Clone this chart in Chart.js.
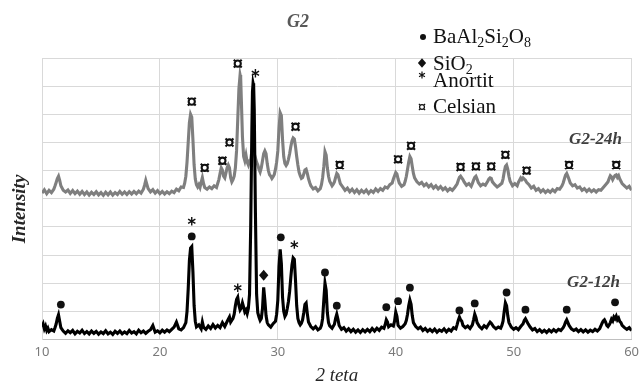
<!DOCTYPE html>
<html>
<head>
<meta charset="utf-8">
<title>G2 XRD</title>
<script src="https://cdn.jsdelivr.net/npm/chart.js@4.4.1/dist/chart.umd.min.js"></script>
<style>
  html, body { margin: 0; padding: 0; background: #fff; }
  #wrap { width: 644px; height: 386px; position: relative; }
</style>
</head>
<body>
<div id="wrap"><canvas id="xrd-chart"></canvas></div>
<script>
// 2 theta / intensity pairs (arbitrary units, 0-100)
const g2_12h = [
  [10.0,4.5],[10.1,5.5],[10.2,3.8],[10.3,4.8],[10.4,3.2],[10.5,4.0],[10.6,2.8],[10.8,3.5],[11.0,3.0],[11.1,4.2],
  [11.2,5.5],[11.3,7.5],[11.4,8.8],[11.5,6.5],[11.6,4.2],[11.8,3.0],[12.0,2.2],[12.2,3.1],[12.4,2.4],[12.6,3.2],
  [12.8,2.0],[13.0,2.9],[13.2,2.3],[13.4,3.3],[13.6,2.1],[13.8,2.8],[14.0,2.0],[14.2,3.0],[14.4,2.2],[14.6,2.9],
  [14.8,1.9],[15.0,2.7],[15.2,2.1],[15.4,3.1],[15.6,2.0],[15.8,2.6],[16.0,1.8],[16.2,2.9],[16.4,2.2],[16.6,3.0],
  [16.8,2.0],[17.0,2.7],[17.2,2.1],[17.4,3.2],[17.6,2.3],[17.8,2.8],[18.0,2.0],[18.2,3.3],[18.4,2.4],[18.6,3.0],
  [18.8,2.2],[19.0,2.9],[19.2,3.5],[19.4,5.0],[19.6,2.6],[19.8,3.1],[20.0,2.4],[20.2,3.3],[20.4,2.6],[20.6,3.4],
  [20.8,2.8],[21.0,3.6],[21.2,4.4],[21.4,6.2],[21.6,3.8],[21.8,3.4],[22.0,4.2],[22.2,6.0],[22.3,10],[22.4,18],
  [22.5,28],[22.6,32.5],[22.7,33],[22.8,24],[22.9,12],[23.0,6.5],[23.1,4.5],[23.3,5.2],[23.5,3.8],[23.6,6.2],
  [23.7,4.4],[23.9,3.6],[24.1,4.8],[24.3,3.9],[24.5,5.3],[24.7,4.1],[24.9,5.0],[25.1,4.2],[25.3,6.0],[25.5,4.6],
  [25.7,6.4],[25.9,8.0],[26.0,6.2],[26.2,7.5],[26.3,9.0],[26.4,12],[26.5,14.2],[26.6,15],[26.7,12.2],[26.8,10.5],
  [26.9,11.2],[27.0,13],[27.1,11.5],[27.2,9.8],[27.3,10.5],[27.4,9.2],[27.5,11],[27.6,16],[27.7,40],[27.8,75],
  [27.85,88],[27.9,91],[27.95,90],[28.0,82],[28.1,45],[28.2,16],[28.3,9.5],[28.4,8.0],[28.5,6.8],[28.6,7.5],
  [28.7,11],[28.8,18.5],[28.9,14],[29.0,8.5],[29.1,6.0],[29.2,5.2],[29.4,4.4],[29.6,5.6],[29.8,6.5],[29.9,9],
  [30.0,14],[30.1,26],[30.2,32],[30.3,27],[30.4,15],[30.5,10],[30.6,8.2],[30.7,9.0],[30.8,11],[30.9,13.5],
  [31.0,17],[31.1,22],[31.2,26.5],[31.3,29],[31.4,28.5],[31.5,21],[31.6,12],[31.7,7.5],[31.8,6.0],[31.9,5.2],
  [32.0,5.8],[32.1,7.0],[32.2,9.5],[32.3,12.5],[32.4,13],[32.5,9.2],[32.6,6.2],[32.8,4.6],[33.0,3.8],[33.2,4.6],
  [33.4,3.4],[33.6,4.0],[33.7,5.0],[33.8,7.5],[33.9,14],[34.0,20],[34.1,17.5],[34.2,9.5],[34.3,6.0],[34.4,4.8],
  [34.6,4.0],[34.8,5.4],[34.9,7.5],[35.0,9],[35.1,7.2],[35.2,5.0],[35.4,3.6],[35.6,4.2],[35.8,3.0],[36.0,3.8],
  [36.2,2.8],[36.4,3.6],[36.6,2.6],[36.8,3.4],[37.0,2.5],[37.2,3.5],[37.4,2.7],[37.6,3.6],[37.8,2.8],[38.0,3.9],
  [38.2,3.0],[38.4,4.0],[38.6,3.2],[38.8,4.4],[39.0,4.0],[39.1,5.2],[39.2,7.0],[39.3,6.2],[39.4,4.5],[39.6,5.2],
  [39.8,4.8],[39.9,6.5],[40.0,9.7],[40.1,8.2],[40.2,5.0],[40.4,4.0],[40.6,4.6],[40.8,5.6],[40.9,6.8],[41.0,9],
  [41.1,12],[41.2,14],[41.3,12.5],[41.4,8.5],[41.5,6.0],[41.7,4.6],[41.9,3.8],[42.1,4.4],[42.3,3.2],[42.5,3.9],
  [42.7,2.9],[42.9,3.6],[43.1,2.8],[43.3,3.7],[43.5,2.6],[43.7,3.4],[43.9,2.9],[44.1,3.8],[44.3,2.7],[44.5,3.6],
  [44.7,3.0],[44.9,4.2],[45.1,3.8],[45.2,5.2],[45.3,6.8],[45.4,8],[45.5,7.0],[45.6,6.5],[45.7,5.0],[45.9,4.2],
  [46.1,4.8],[46.3,3.9],[46.5,5.2],[46.6,7.0],[46.7,9],[46.8,7.8],[46.9,6.0],[47.1,4.6],[47.3,3.8],[47.5,4.9],
  [47.7,4.2],[47.9,5.6],[48.0,6.2],[48.1,5.8],[48.3,4.5],[48.5,3.8],[48.7,4.4],[48.9,4.0],[49.0,5.0],[49.1,6.5],
  [49.2,10],[49.3,13],[49.4,12],[49.5,8.5],[49.6,6.0],[49.8,4.4],[50.0,3.6],[50.2,4.2],[50.4,3.5],[50.6,4.6],
  [50.8,5.6],[50.9,6.8],[51.0,7.4],[51.1,6.6],[51.2,5.8],[51.4,4.4],[51.6,3.4],[51.8,3.9],[52.0,2.8],[52.2,3.5],
  [52.4,2.6],[52.6,3.3],[52.8,2.5],[53.0,3.4],[53.2,2.7],[53.4,3.5],[53.6,2.8],[53.8,3.6],[54.0,3.2],[54.2,4.2],
  [54.3,5.0],[54.4,6.2],[54.5,7],[54.6,6.0],[54.7,5.0],[54.9,3.8],[55.1,3.2],[55.3,3.7],[55.5,2.8],[55.7,3.5],
  [55.9,2.7],[56.1,3.4],[56.3,2.6],[56.5,3.3],[56.7,2.8],[56.9,3.6],[57.1,3.0],[57.3,3.9],[57.4,4.8],[57.5,5.8],
  [57.6,6.6],[57.7,7],[57.8,6.2],[57.9,5.0],[58.0,4.6],[58.1,5.2],[58.2,6.0],[58.3,7.2],[58.4,6.6],[58.5,8.0],
  [58.6,7.4],[58.7,8.3],[58.8,7.0],[58.9,7.6],[59.0,6.4],[59.1,6.0],[59.2,5.0],[59.4,4.2],[59.6,3.6],[59.8,4.2],
  [60.0,3.2]
];

const g2_24h = [
  [10.0,52.0],[10.2,53.2],[10.4,51.8],[10.6,53.0],[10.8,52.2],[11.0,53.4],[11.1,54.5],[11.2,55.8],[11.3,57.2],[11.4,58],
  [11.5,56.5],[11.6,54.6],[11.8,53.0],[12.0,52.4],[12.2,53.1],[12.4,51.9],[12.6,52.9],[12.8,51.8],[13.0,52.7],[13.2,51.6],
  [13.4,52.6],[13.6,51.5],[13.8,52.4],[14.0,51.3],[14.2,52.3],[14.4,51.5],[14.6,52.5],[14.8,51.4],[15.0,52.2],[15.2,51.2],
  [15.4,52.3],[15.6,51.4],[15.8,52.4],[16.0,51.3],[16.2,52.2],[16.4,51.5],[16.6,52.6],[16.8,51.6],[17.0,52.4],[17.2,51.5],
  [17.4,52.5],[17.6,51.7],[17.8,52.6],[18.0,51.8],[18.2,52.7],[18.4,52.0],[18.6,53.4],[18.7,54.8],[18.8,56.5],[18.9,55.0],
  [19.0,53.6],[19.2,52.4],[19.4,53.2],[19.6,52.0],[19.8,52.9],[20.0,51.8],[20.2,52.6],[20.4,51.7],[20.6,52.5],[20.8,51.8],
  [21.0,52.7],[21.2,52.2],[21.4,53.4],[21.6,52.8],[21.8,54.2],[22.0,54.0],[22.1,55.5],[22.2,58],[22.3,63],[22.4,70],
  [22.5,77],[22.6,80],[22.7,79],[22.8,71],[22.9,62],[23.0,57],[23.1,55],[23.2,54.2],[23.3,55.0],[23.4,54.0],
  [23.5,55.8],[23.6,57.5],[23.7,55.4],[23.8,54.0],[24.0,53.4],[24.2,54.2],[24.4,53.6],[24.6,54.6],[24.8,54.0],[24.9,55.4],
  [25.0,56.8],[25.1,59.0],[25.2,61],[25.3,60.2],[25.4,58.0],[25.5,57.4],[25.6,59.2],[25.7,61.0],[25.8,62],[25.9,61],
  [26.0,57.5],[26.1,56.0],[26.2,56.8],[26.3,58.0],[26.4,61],[26.5,67],[26.6,78],[26.7,89],[26.8,94],[26.85,93],
  [26.9,86],[27.0,72],[27.1,65],[27.2,63.5],[27.3,65.5],[27.4,63.0],[27.5,62.0],[27.6,63.5],[27.7,64.0],[27.8,67],
  [27.9,69],[28.0,66],[28.1,64.5],[28.2,63.0],[28.3,62.0],[28.4,60.5],[28.5,59.5],[28.6,61.0],[28.7,63.5],[28.8,66],
  [28.9,67],[29.0,66],[29.1,62.5],[29.2,60.0],[29.3,58.5],[29.4,58.0],[29.5,57.2],[29.6,57.8],[29.7,58.6],[29.8,60.5],
  [29.9,63],[30.0,67],[30.1,75],[30.2,80.5],[30.3,79.5],[30.4,71],[30.5,65],[30.6,62.5],[30.7,61.8],[30.8,62.5],
  [30.9,64],[31.0,66],[31.1,68.5],[31.2,70.5],[31.3,71.6],[31.4,71.2],[31.5,68.5],[31.6,65],[31.7,62],[31.8,59.5],
  [31.9,58.2],[32.0,57.2],[32.1,57.5],[32.2,58.8],[32.3,60.2],[32.4,60.5],[32.5,59.0],[32.6,57.2],[32.7,55.8],[32.8,54.6],
  [33.0,53.5],[33.2,54.0],[33.4,52.8],[33.6,53.6],[33.7,55.0],[33.8,57.5],[33.9,61.5],[34.0,66.7],[34.1,65.5],[34.2,61.0],
  [34.3,58.0],[34.4,56.2],[34.5,55.4],[34.6,54.6],[34.7,55.2],[34.8,56.0],[34.9,57.6],[35.0,59],[35.1,58.5],[35.2,57.0],
  [35.3,55.4],[35.5,54.2],[35.7,53.0],[35.9,53.8],[36.1,52.5],[36.3,53.4],[36.5,52.2],[36.7,53.2],[36.9,52.0],[37.1,53.0],
  [37.3,52.2],[37.5,53.1],[37.7,51.9],[37.9,52.9],[38.1,52.2],[38.3,53.5],[38.5,52.6],[38.7,53.6],[38.9,53.0],[39.1,54.2],
  [39.3,53.8],[39.5,55.0],[39.7,55.6],[39.8,57.0],[39.9,58.2],[40.0,59.3],[40.1,58.8],[40.2,57.0],[40.3,55.6],[40.5,54.4],
  [40.7,55.0],[40.8,56.2],[40.9,58.0],[41.0,60.5],[41.1,63.0],[41.2,65],[41.3,64.2],[41.4,61.5],[41.5,59.0],[41.6,57.4],
  [41.8,56.0],[42.0,55.2],[42.2,55.8],[42.4,54.6],[42.6,55.3],[42.8,54.2],[43.0,55.0],[43.2,53.8],[43.4,54.6],[43.6,53.5],
  [43.8,54.3],[44.0,53.2],[44.2,53.9],[44.4,52.8],[44.6,53.6],[44.8,53.0],[45.0,54.0],[45.2,55.2],[45.3,56.5],[45.4,57.6],
  [45.5,58],[45.6,57.4],[45.7,56.8],[45.8,56.0],[46.0,54.8],[46.2,55.4],[46.4,54.4],[46.5,55.4],[46.6,56.6],[46.7,57.6],
  [46.8,58],[46.9,57.0],[47.0,55.8],[47.2,54.6],[47.4,55.2],[47.6,54.8],[47.8,56.2],[47.9,57.0],[48.0,57.4],[48.1,57.2],
  [48.2,56.0],[48.4,55.0],[48.6,54.2],[48.8,54.8],[49.0,55.5],[49.1,57.0],[49.2,59.5],[49.3,61.5],[49.4,62],[49.5,60.5],
  [49.6,58.0],[49.7,56.2],[49.9,54.6],[50.1,55.4],[50.3,54.6],[50.4,55.8],[50.5,56.6],[50.6,57.4],[50.7,56.8],[50.8,57.4],
  [50.9,57.0],[51.0,56.6],[51.1,55.8],[51.3,55.0],[51.5,53.8],[51.7,54.4],[51.9,53.0],[52.1,53.6],[52.3,52.4],[52.5,53.2],
  [52.7,52.2],[52.9,53.0],[53.1,52.3],[53.3,53.2],[53.5,52.5],[53.7,53.6],[53.9,53.4],[54.1,54.6],[54.2,55.6],[54.3,57.0],
  [54.4,58.4],[54.5,59],[54.6,58.0],[54.7,56.8],[54.8,55.6],[55.0,54.6],[55.2,55.0],[55.4,53.8],[55.6,54.2],[55.8,53.0],
  [56.0,53.6],[56.2,52.6],[56.4,53.4],[56.6,52.5],[56.8,53.2],[57.0,52.4],[57.2,53.2],[57.4,53.0],[57.6,54.0],[57.8,55.0],
  [58.0,56.0],[58.1,57.2],[58.2,58.2],[58.3,57.8],[58.4,56.8],[58.5,57.6],[58.6,58.3],[58.7,58.5],[58.8,57.6],[58.9,58.2],
  [59.0,57.0],[59.1,56.2],[59.2,55.4],[59.4,54.6],[59.6,53.8],[59.8,54.4],[60.0,53.0]
];

// phase marks above the peaks: [2 theta, intensity]
const baAlSiMarks = [[11.6,12.4],[22.7,36.6],[30.25,36.3],[34.0,23.8],[35.0,12],[39.2,11.5],[40.2,13.6],[41.2,18.4],
  [45.4,10.3],[46.7,12.8],[49.4,16.7],[51.0,10.6],[54.5,10.6],[58.6,13.2]];
const sio2Marks = [[28.8,22.8]];
const anortitMarks = [[22.7,42],[26.6,18.4],[28.1,94.6],[31.4,33.7]];
const celsianMarks = [[22.7,84.5],[23.8,61],[25.3,63.5],[25.9,70],[26.6,98],[31.5,75.6],[35.25,62],[40.2,64],
  [41.3,68.8],[45.5,61.3],[46.8,61.5],[48.1,61.5],[49.3,65.6],[51.1,60],[54.7,62],[58.7,62]];

const xTicks = [10, 20, 30, 40, 50, 60];
const legendLabels = ["BaAl2Si2O8", "SiO2", "Anortit", "Celsian"];
const seriesNames = ["G2-12h", "G2-24h"];

const serif = "'Liberation Serif', 'DejaVu Serif', serif";

function drawSymbol(ctx, kind, x, y, s, lw) {
  ctx.save();
  ctx.fillStyle = "#111";
  ctx.strokeStyle = "#111";
  ctx.lineWidth = lw;
  ctx.beginPath();
  if (kind === "dot") {
    ctx.arc(x, y, s, 0, Math.PI * 2);
    ctx.fill();
  } else if (kind === "diamond") {
    ctx.moveTo(x, y - s);
    ctx.lineTo(x + s * 0.85, y);
    ctx.lineTo(x, y + s);
    ctx.lineTo(x - s * 0.85, y);
    ctx.closePath();
    ctx.fill();
  } else if (kind === "star") {
    for (let i = 0; i < 3; i++) {
      const a = Math.PI / 2 + (i * Math.PI) / 3;
      ctx.moveTo(x + Math.cos(a) * s, y + Math.sin(a) * s);
      ctx.lineTo(x - Math.cos(a) * s, y - Math.sin(a) * s);
    }
    ctx.stroke();
  } else if (kind === "cels") {
    const r = s * 0.55;
    ctx.arc(x, y, r, 0, Math.PI * 2);
    for (let i = 0; i < 4; i++) {
      const a = Math.PI / 4 + (i * Math.PI) / 2;
      ctx.moveTo(x + Math.cos(a) * r, y + Math.sin(a) * r);
      ctx.lineTo(x + Math.cos(a) * s, y + Math.sin(a) * s);
    }
    ctx.stroke();
  }
  ctx.restore();
}

// digits become subscripts
function drawFormula(ctx, text, x, y) {
  let cx = x;
  for (const ch of text) {
    const sub = ch >= "0" && ch <= "9";
    ctx.font = (sub ? "14px " : "21px ") + serif;
    ctx.fillText(ch, cx, sub ? y + 4 : y);
    cx += ctx.measureText(ch).width;
  }
}

const annotations = {
  id: "annotations",
  afterDatasetsDraw(chart) {
    const { ctx } = chart;
    const xs = chart.scales.x;
    const ys = chart.scales.y;
    const put = (marks, kind, s, lw) => {
      marks.forEach(([tx, ty]) => {
        drawSymbol(ctx, kind, xs.getPixelForValue(tx), ys.getPixelForValue(ty), s, lw);
      });
    };
    put(baAlSiMarks, "dot", 3.9, 1);
    put(sio2Marks, "diamond", 5.5, 1);
    put(anortitMarks, "star", 4.2, 1.4);
    put(celsianMarks, "cels", 5.6, 2.1);
  },
  afterDraw(chart) {
    const { ctx } = chart;
    ctx.save();
    ctx.textBaseline = "middle";

    // title
    ctx.fillStyle = "#595959";
    ctx.textAlign = "center";
    ctx.font = "italic bold 18px " + serif;
    ctx.fillText("G2", 298, 22);

    // series names
    ctx.fillStyle = "#404040";
    ctx.textAlign = "right";
    ctx.font = "italic bold 17px " + serif;
    ctx.fillText(seriesNames[1], 622, 140);
    ctx.fillText(seriesNames[0], 620, 283);

    // y title
    ctx.save();
    ctx.translate(20, 209);
    ctx.rotate(-Math.PI / 2);
    ctx.textAlign = "center";
    ctx.fillStyle = "#262626";
    ctx.font = "italic bold 19px " + serif;
    ctx.fillText("Intensity", 0, 0);
    ctx.restore();

    // legend
    ctx.textBaseline = "alphabetic";
    ctx.textAlign = "left";
    ctx.fillStyle = "#111";
    const baselines = [43, 70, 87, 113];
    legendLabels.forEach((label, i) => drawFormula(ctx, label, 433, baselines[i]));
    drawSymbol(ctx, "dot", 423, 37, 3, 1);
    drawSymbol(ctx, "diamond", 422, 63, 4.8, 1);
    drawSymbol(ctx, "star", 422, 75, 3.4, 1.2);
    drawSymbol(ctx, "cels", 422, 107, 4.4, 1.2);
    ctx.restore();
  },
};

new Chart(document.getElementById("xrd-chart"), {
  type: "line",
  data: {
    datasets: [
      {
        label: seriesNames[0],
        data: g2_12h.map(([x, y]) => ({ x, y })),
        borderColor: "#000000",
        borderWidth: 3.1,
        pointRadius: 0,
        tension: 0,
      },
      {
        label: seriesNames[1],
        data: g2_24h.map(([x, y]) => ({ x, y })),
        borderColor: "#7f7f7f",
        borderWidth: 3.1,
        pointRadius: 0,
        tension: 0,
      },
    ],
  },
  options: {
    responsive: true,
    maintainAspectRatio: false,
    animation: false,
    devicePixelRatio: 1,
    layout: { padding: { left: 42, right: 12, top: 58, bottom: 0 } },
    scales: {
      x: {
        type: "linear",
        min: 10,
        max: 60,
        afterBuildTicks: (axis) => {
          axis.ticks = xTicks.map((v) => ({ value: v }));
        },
        ticks: {
          padding: 5,
          color: "#7a7a7a",
          font: { family: "'Noto Sans', sans-serif", size: 13 },
        },
        grid: { color: "#d9d9d9", drawTicks: false },
        border: { color: "#bfbfbf" },
        title: {
          display: true,
          text: "2 teta",
          color: "#262626",
          padding: 0,
          font: { family: serif, size: 19, style: "italic", lineHeight: 1.1 },
        },
      },
      y: {
        min: 0,
        max: 100,
        ticks: { display: false, stepSize: 10 },
        grid: { color: "#d9d9d9", drawTicks: false },
        border: { color: "#d9d9d9" },
      },
    },
    plugins: {
      legend: { display: false },
      tooltip: { enabled: false },
    },
  },
  plugins: [annotations],
});
</script>
</body>
</html>
